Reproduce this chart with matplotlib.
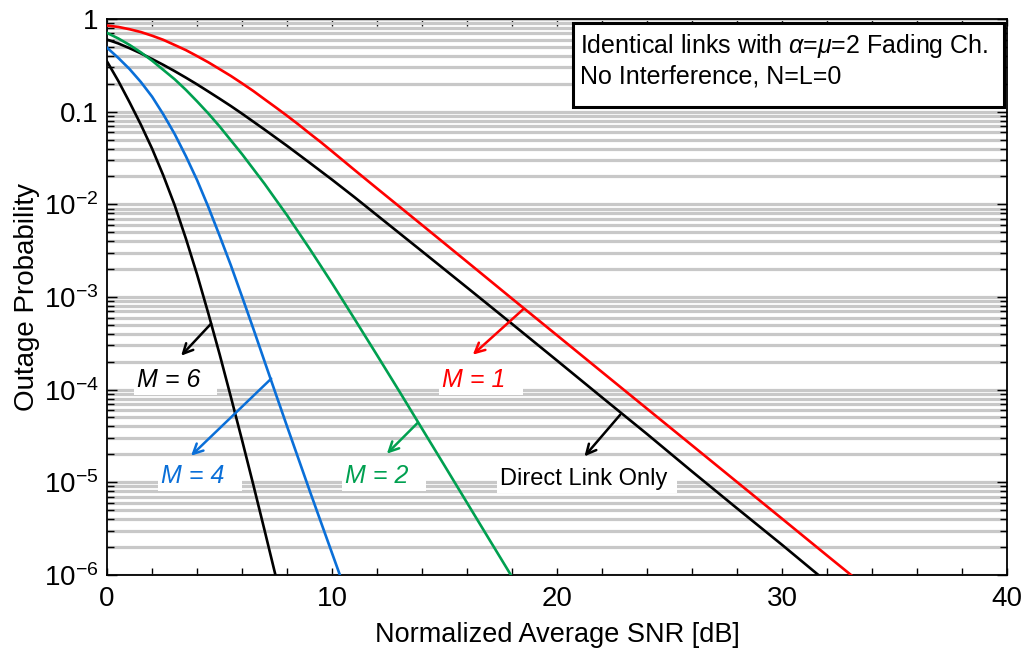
import numpy as np
import matplotlib
matplotlib.use("Agg")
import matplotlib.pyplot as plt
from matplotlib.patches import Rectangle
from matplotlib.ticker import LogLocator, FuncFormatter, MultipleLocator, NullFormatter

plt.rcParams['font.family'] = ['Liberation Sans', 'DejaVu Sans']
plt.rcParams['mathtext.fontset'] = 'custom'
plt.rcParams['mathtext.rm'] = 'Liberation Sans'
plt.rcParams['mathtext.it'] = 'Liberation Sans:italic'
plt.rcParams['mathtext.bf'] = 'Liberation Sans:bold'

# ---------------- data ----------------
snr_m1 = [0, 0.5, 1, 1.5, 2, 2.5, 3, 3.5, 4, 4.5, 5, 5.5, 6, 6.5, 7, 7.5, 8, 8.5, 9, 9.5,
          10, 11, 12, 14, 16, 18, 20, 22, 24, 26, 28, 30, 32, 34]
pout_m1 = [0.851, 0.822, 0.776, 0.724, 0.661, 0.596, 0.525, 0.462, 0.398, 0.341, 0.288,
           0.243, 0.202, 0.167, 0.136, 0.111, 0.0902, 0.0728, 0.0582, 0.0468, 0.0372,
           0.0234, 0.0148, 5.96e-3, 2.39e-3, 9.55e-4, 3.84e-4, 1.54e-4, 6.19e-5,
           2.49e-5, 1.0e-5, 4.02e-6, 1.61e-6, 6.49e-7]

snr_direct = [0, 0.5, 1, 1.5, 2, 2.5, 3, 3.5, 4, 4.5, 5, 5.5, 6, 7, 8, 9, 10, 11, 12, 14,
              16, 18, 20, 22, 24, 26, 28, 30, 32]
pout_direct = [0.60, 0.545, 0.484, 0.426, 0.37, 0.32, 0.274, 0.233, 0.197, 0.165, 0.138,
               0.115, 0.095, 0.064, 0.0427, 0.0281, 0.0184, 0.0119, 7.6e-3, 3.1e-3,
               1.26e-3, 5.1e-4, 2.05e-4, 8.2e-5, 3.3e-5, 1.3e-5, 5.2e-6, 2.1e-6, 8.3e-7]

snr_m2 = [0, 0.5, 1, 1.5, 2, 2.5, 3, 3.5, 4, 4.5, 5, 5.5, 6, 6.5, 7, 7.5, 8, 9, 10, 11,
          12, 13, 14, 15, 16, 17, 18, 19]
pout_m2 = [0.708, 0.617, 0.525, 0.437, 0.355, 0.282, 0.224, 0.172, 0.129, 0.0955, 0.0692,
           0.049, 0.0347, 0.024, 0.0166, 0.0112, 7.59e-3, 3.31e-3, 1.40e-3, 5.75e-4,
           2.34e-4, 9.44e-5, 3.76e-5, 1.50e-5, 5.96e-6, 2.37e-6, 9.44e-7, 3.76e-7]

snr_m4 = [0, 0.5, 1, 1.5, 2, 2.5, 3, 3.5, 4, 4.5, 5, 5.5, 6, 6.5, 7, 7.5, 8, 9, 10, 10.5]
pout_m4 = [0.490, 0.380, 0.288, 0.209, 0.145, 0.0933, 0.0575, 0.0331, 0.0182, 9.33e-3,
           4.57e-3, 2.19e-3, 1.0e-3, 4.52e-4, 2.0e-4, 8.9e-5, 3.98e-5, 8.1e-6, 1.70e-6,
           7.8e-7]

snr_m6 = [0, 0.5, 1, 1.5, 2, 2.5, 3, 3.5, 4, 4.5, 5, 5.5, 6, 6.5, 7, 7.5, 8]
pout_m6 = [0.347, 0.214, 0.126, 0.0724, 0.0398, 0.0204, 9.8e-3, 4.27e-3, 1.74e-3, 6.6e-4,
           2.4e-4, 8.3e-5, 2.82e-5, 9.3e-6, 3.0e-6, 9.5e-7, 3.0e-7]

C_RED, C_GREEN, C_BLUE, C_BLACK = '#ff0000', '#00a050', '#0a6fd8', '#000000'

series = [
    (snr_m1, pout_m1, C_RED),
    (snr_direct, pout_direct, C_BLACK),
    (snr_m2, pout_m2, C_GREEN),
    (snr_m4, pout_m4, C_BLUE),
    (snr_m6, pout_m6, C_BLACK),
]

# annotations: (label, text left/baseline, arrow tail on curve, arrow head, colour, style, size)
annots = [
    ('M = 6  ', (1.33, 10**-3.969), (4.62, 10**-3.288), (3.29, 10**-3.634), C_BLACK, 'italic', 18),
    ('M = 4  ', (2.40, 10**-5.005), (7.29, 10**-3.882), (3.73, 10**-4.714), C_BLUE, 'italic', 18),
    ('M = 2  ', (10.58, 10**-5.005), (13.79, 10**-4.361), (12.43, 10**-4.692), C_GREEN, 'italic', 18),
    ('M = 1  ', (14.89, 10**-3.969), (18.50, 10**-3.130), (16.25, 10**-3.623), C_RED, 'italic', 18),
    ('Direct Link Only ', (17.47, 10**-5.027), (22.80, 10**-4.271), (21.21, 10**-4.721), C_BLACK, 'normal', 17),
]

fig = plt.figure(figsize=(10.30, 6.57), dpi=100)
ax = fig.add_axes([0.104, 0.125, 0.874, 0.846])

for xs, ys, c in series:
    ax.plot(xs, ys, color=c, lw=1.9, zorder=3)

ax.set_yscale('log')
ax.set_xlim(0, 40)
ax.set_ylim(1e-6, 1)

ax.yaxis.set_major_locator(LogLocator(base=10, numticks=20))
ax.yaxis.set_minor_locator(LogLocator(base=10, subs=np.arange(2, 10), numticks=20))
ax.yaxis.set_minor_formatter(NullFormatter())

def yfmt(v, pos):
    e = int(round(np.log10(v)))
    if e == 0:
        return '1'
    if e == -1:
        return '0.1'
    return r'$10^{%d}$' % e
ax.yaxis.set_major_formatter(FuncFormatter(yfmt))

ax.xaxis.set_major_locator(MultipleLocator(10))
ax.xaxis.set_minor_locator(MultipleLocator(2))

ax.yaxis.grid(True, which='both', color='#c8c8c8', lw=2.3, zorder=0)
ax.xaxis.grid(False)
ax.set_axisbelow(True)

ax.tick_params(which='both', direction='in', top=True, right=True, width=1.0)
ax.tick_params(axis='y', which='major', length=7, labelsize=20, pad=6)
ax.tick_params(axis='y', which='minor', length=5)
ax.tick_params(axis='x', which='major', length=5, labelsize=20, pad=8)
ax.tick_params(axis='x', which='minor', length=5)
for s in ax.spines.values():
    s.set_linewidth(1.3)

ax.set_xlabel('Normalized Average SNR [dB]', fontsize=19.5, labelpad=7)
ax.set_ylabel('Outage Probability', fontsize=20, labelpad=3)

for txt, tpos, tail, head, c, st, fs in annots:
    ax.annotate('', xy=head, xytext=tail,
                arrowprops=dict(arrowstyle='->,head_length=0.7,head_width=0.35',
                                color=c, lw=1.8, shrinkA=0, shrinkB=0), zorder=5)
    ax.text(tpos[0], tpos[1], txt, color=c, fontsize=fs, style=st,
            ha='left', va='baseline', zorder=4,
            bbox=dict(boxstyle='square,pad=0.12', fc='white', ec='none'))

# information box
ax.add_patch(Rectangle((0.518, 0.8425), 0.478, 0.1495, transform=ax.transAxes,
                       fc='white', ec='black', lw=2.2, zorder=6))
ax.text(0.5256, 0.9397, 'Identical links with $\\it{\\alpha}$=$\\it{\\mu}$=2 Fading Ch.',
        transform=ax.transAxes, fontsize=18, ha='left', va='baseline', zorder=7)
ax.text(0.5256, 0.8839, 'No Interference, N=L=0',
        transform=ax.transAxes, fontsize=18, ha='left', va='baseline', zorder=7)

fig.savefig('out.png', dpi=100)
